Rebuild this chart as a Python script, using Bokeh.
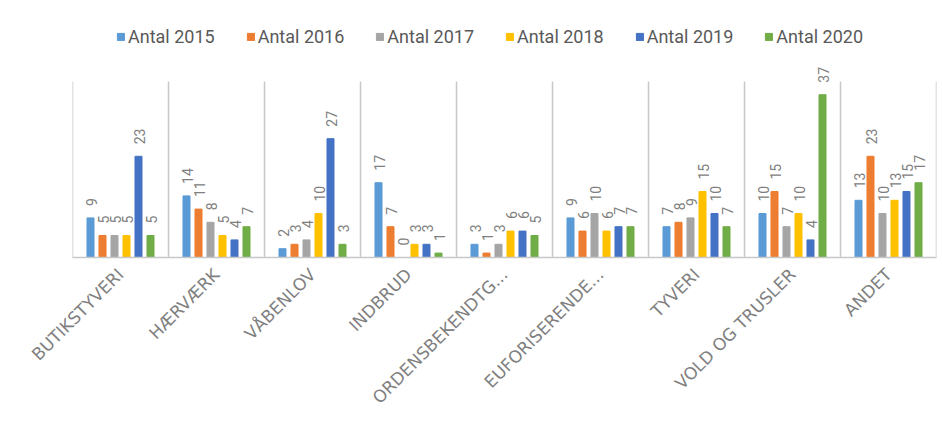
from math import pi
from bokeh.plotting import figure
from bokeh.models import ColumnDataSource, FactorRange, Range1d
from bokeh.transform import dodge
from bokeh.core.properties import value
from bokeh.embed import file_html
from bokeh.resources import INLINE

categories = ["BUTIKSTYVERI", "HÆRVÆRK", "VÅBENLOV", "INDBRUD", "ORDENSBEKENDTG...",
              "EUFORISERENDE...", "TYVERI", "VOLD OG TRUSLER", "ANDET"]
series = ["Antal 2015", "Antal 2016", "Antal 2017", "Antal 2018", "Antal 2019", "Antal 2020"]
antal_2015 = [9, 14, 2, 17, 3, 9, 7, 10, 13]
antal_2016 = [5, 11, 3, 7, 1, 6, 8, 15, 23]
antal_2017 = [5, 8, 4, 0, 3, 10, 9, 7, 10]
antal_2018 = [5, 5, 10, 3, 6, 6, 15, 10, 13]
antal_2019 = [23, 4, 27, 3, 6, 7, 10, 4, 15]
antal_2020 = [5, 7, 3, 1, 5, 7, 7, 37, 17]
values = [antal_2015, antal_2016, antal_2017, antal_2018, antal_2019, antal_2020]
colors = ["#5B9BD5", "#ED7D31", "#A5A5A5", "#FFC000", "#4472C4", "#70AD47"]
axis_max = 40

data = {"cat": categories}
for i, vals in enumerate(values):
    data[f"v{i}"] = vals
    data[f"t{i}"] = [str(v) for v in vals]
src = ColumnDataSource(data)

p = figure(width=942, height=421,
           x_range=FactorRange(factors=categories, range_padding=0),
           y_range=Range1d(0, 55),
           output_backend="svg", toolbar_location=None,
           y_axis_location=None,
           min_border_left=72, min_border_right=6,
           min_border_top=15, min_border_bottom=164)

# category separators (from baseline up to the axis maximum)
nb = len(categories) + 1
p.segment(x0=list(range(nb)), y0=[0] * nb, x1=list(range(nb)), y1=[axis_max] * nb,
          line_color="#c8c8c8", line_width=1.5)

n = len(series)
step = 0.125
for i in range(n):
    off = (i - (n - 1) / 2) * step
    p.vbar(x=dodge("cat", off, range=p.x_range), top=f"v{i}", width=0.073,
           source=src, color=colors[i], legend_label=series[i])
    p.text(x=dodge("cat", off + 0.01, range=p.x_range), y=f"v{i}", text=f"t{i}",
           angle=pi / 2, text_align="left", text_baseline="middle", y_offset=-12,
           text_font=value("Roboto"), text_font_size="14px", text_color="#808080",
           source=src)

p.xgrid.grid_line_color = None
p.ygrid.grid_line_color = None
p.outline_line_color = None

ax = p.xaxis[0]
ax.major_label_orientation = pi / 4
ax.axis_line_color = "#c8c8c8"
ax.axis_line_width = 1.5
ax.major_tick_line_color = None
ax.minor_tick_line_color = None
ax.major_label_standoff = 8
ax.major_label_text_font = "DejaVu Sans"
ax.major_label_text_font_size = "17px"
ax.major_label_text_color = "#808080"

lg = p.legend[0]
lg.orientation = "horizontal"
lg.location = (44, 210)
lg.border_line_color = None
lg.background_fill_alpha = 0
lg.glyph_width = 9
lg.glyph_height = 9
lg.label_standoff = 3
lg.spacing = 31
lg.padding = 0
lg.margin = 0
lg.label_text_font = "Roboto"
lg.label_text_font_size = "18px"
lg.label_text_color = "#595959"

open("out.html", "w").write(file_html(p, INLINE))
